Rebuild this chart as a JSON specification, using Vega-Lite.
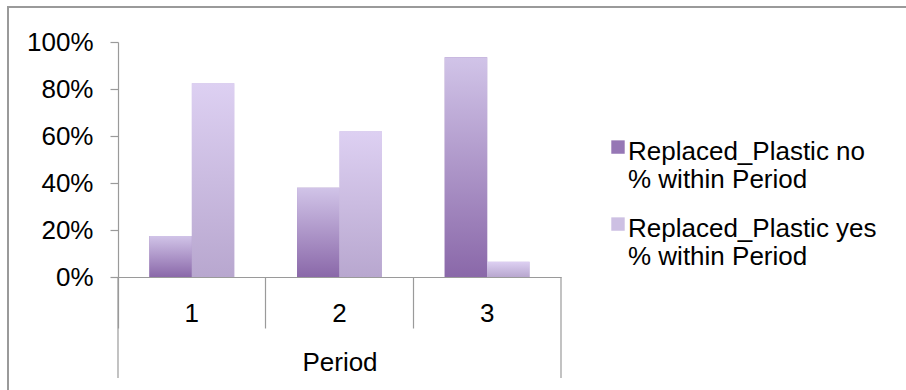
{
  "$schema": "https://vega.github.io/schema/vega-lite/v6.json",
  "autosize": {"type": "none"},
  "width": 443,
  "height": 235,
  "padding": {"left": 118, "top": 42, "right": 345, "bottom": 113},
  "background": "white",
  "config": {
    "view": {"stroke": null},
    "font": "Liberation Sans"
  },
  "data": {
    "values": [
      {"Period": "1", "series": "Replaced_Plastic no", "pct": 0.175},
      {"Period": "1", "series": "Replaced_Plastic yes", "pct": 0.825},
      {"Period": "2", "series": "Replaced_Plastic no", "pct": 0.38},
      {"Period": "2", "series": "Replaced_Plastic yes", "pct": 0.62},
      {"Period": "3", "series": "Replaced_Plastic no", "pct": 0.935},
      {"Period": "3", "series": "Replaced_Plastic yes", "pct": 0.065}
    ]
  },
  "resolve": {"scale": {"x": "independent"}, "axis": {"x": "independent"}},
  "layer": [
    {
      "mark": {"type": "rect", "filled": false, "stroke": "#9a9a9a", "strokeWidth": 1.5, "clip": false},
      "encoding": {
        "x": {"datum": -0.2483, "type": "quantitative", "scale": {"domain": [0, 1], "nice": false, "zero": false}, "axis": null},
        "x2": {"datum": 1.9},
        "y": {"datum": 1.1489, "type": "quantitative", "scale": {"domain": [0, 1], "nice": false},
          "axis": {"title": null, "format": ".0%", "values": [0, 0.2, 0.4, 0.6, 0.8, 1], "labelFontSize": 26, "labelColor": "black",
            "labelFont": "Liberation Sans", "labelPadding": 17, "tickSize": 8, "tickColor": "#9a9a9a", "tickWidth": 1.2,
            "domainColor": "#9a9a9a", "domainWidth": 1.2, "gridColor": "#9a9a9a", "gridWidth": 1.2}},
        "y2": {"datum": -0.6}
      }
    },
    {
      "layer": [
        {
          "mark": {"type": "bar"},
          "encoding": {
            "x": {"field": "Period", "type": "nominal", "scale": {"domain": ["1", "2", "3"], "paddingInner": 0, "paddingOuter": 0},
              "axis": {"bandPosition": 0, "title": "Period", "labelAngle": 0, "labelFontSize": 26, "labelColor": "black", "labelFont": "Liberation Sans",
                "labelBaseline": "middle", "labelPadding": -15, "tickSize": 51, "tickColor": "#9a9a9a", "tickWidth": 1.2,
                "domainColor": "#9a9a9a", "domainWidth": 1.2, "titleFontSize": 26, "titleFontWeight": "normal", "titleColor": "black",
                "titleFont": "Liberation Sans", "titleBaseline": "middle", "titleY": 85, "grid": false}},
            "xOffset": {"field": "series", "type": "nominal", "scale": {"domain": ["Replaced_Plastic no", "Replaced_Plastic yes"], "paddingInner": 0, "paddingOuter": 0.74}},
            "y": {"field": "pct", "type": "quantitative", "scale": {"domain": [0, 1], "nice": false},
              "axis": {"title": null, "format": ".0%", "values": [0, 0.2, 0.4, 0.6, 0.8, 1], "labelFontSize": 26, "labelColor": "black",
                "labelFont": "Liberation Sans", "labelPadding": 17, "tickSize": 8, "tickColor": "#9a9a9a", "tickWidth": 1.2,
                "domainColor": "#9a9a9a", "domainWidth": 1.2, "gridColor": "#9a9a9a", "gridWidth": 1.2}},
            "color": {"field": "series", "type": "nominal",
              "scale": {"domain": ["Replaced_Plastic no", "Replaced_Plastic yes"], "range": ["#9677b5", "#cdc0e3"]},
              "legend": {"orient": "none", "legendX": 487, "legendY": 84, "title": null,
                "symbolType": "M-1,0.2L1,0.2L1,2.2L-1,2.2Z", "symbolSize": 180,
                "symbolStrokeWidth": 0, "labelFontSize": 26, "labelFont": "Liberation Sans", "labelColor": "black", "labelLimit": 0,
                "labelOffset": -3, "rowPadding": 10, "padding": 0, "labelBaseline": "top",
                "labelExpr": "[datum.label, '% within Period']"}}
          }
        },
        {
          "transform": [{"filter": "datum.series === 'Replaced_Plastic no'"}],
          "mark": {"type": "bar", "color": {"gradient": "linear", "x1": 0, "y1": 1, "x2": 0, "y2": 0,
            "stops": [{"offset": 0, "color": "#8a68a9"}, {"offset": 1, "color": "#d1c4e8"}]}},
          "encoding": {
            "x": {"field": "Period", "type": "nominal"},
            "xOffset": {"field": "series", "type": "nominal"},
            "y": {"field": "pct", "type": "quantitative"}
          }
        },
        {
          "transform": [{"filter": "datum.series === 'Replaced_Plastic yes'"}],
          "mark": {"type": "bar", "color": {"gradient": "linear", "x1": 0, "y1": 1, "x2": 0, "y2": 0,
            "stops": [{"offset": 0, "color": "#b8a7cf"}, {"offset": 1, "color": "#ddd0f2"}]}},
          "encoding": {
            "x": {"field": "Period", "type": "nominal"},
            "xOffset": {"field": "series", "type": "nominal"},
            "y": {"field": "pct", "type": "quantitative"}
          }
        },
        {
          "transform": [{"filter": "datum.series === 'Replaced_Plastic no' && datum.Period === '1'"}],
          "mark": {"type": "rule", "color": "#9a9a9a", "strokeWidth": 1.2, "clip": false},
          "encoding": {
            "x": {"field": "Period", "type": "nominal", "bandPosition": 0},
            "y": {"datum": 0},
            "y2": {"datum": -0.43}
          }
        },
        {
          "transform": [{"filter": "datum.series === 'Replaced_Plastic no' && datum.Period === '3'"}],
          "mark": {"type": "rule", "color": "#9a9a9a", "strokeWidth": 1.2, "clip": false},
          "encoding": {
            "x": {"field": "Period", "type": "nominal", "bandPosition": 1},
            "y": {"datum": 0},
            "y2": {"datum": -0.43}
          }
        }
      ]
    }
  ]
}
